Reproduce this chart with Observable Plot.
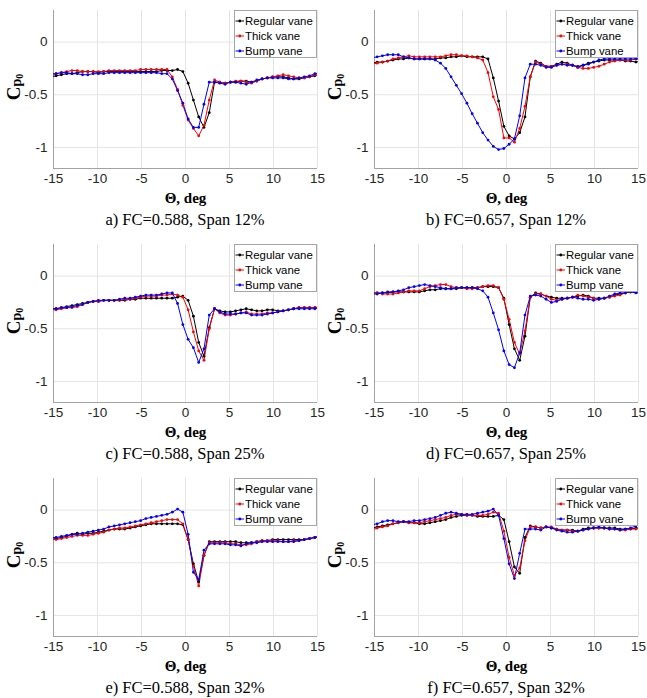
<!DOCTYPE html>
<html><head><meta charset="utf-8">
<script src="https://cdn.jsdelivr.net/npm/d3@7"></script>
<script src="https://cdn.jsdelivr.net/npm/@observablehq/plot@0.6"></script>
<style>
body{margin:0;background:#fff;}
#root{position:relative;width:647px;height:698px;overflow:hidden;background:#fff;}
.panel{position:absolute;}
.cap{position:absolute;font-family:"Liberation Serif","Times New Roman",serif;font-size:16.5px;line-height:20px;color:#000;text-align:center;white-space:nowrap;}
</style></head><body><div id="root"></div>
<script>
// Circumferential angle (deg)
const theta = [-15.3,-14.7,-14.1,-13.5,-12.9,-12.3,-11.7,-11.1,-10.5,-9.9,-9.3,-8.7,-8.1,
  -7.5,-6.9,-6.3,-5.7,-5.1,-4.5,-3.9,-3.3,-2.7,-2.1,-1.5,-0.9,-0.3,
  0.3,0.9,1.5,2.1,2.7,3.3,3.9,4.5,5.1,5.7,6.3,6.9,7.5,
  8.1,8.7,9.3,9.9,10.5,11.1,11.7,12.3,12.9,13.5,14.1,14.7,15.3];

const seriesNames = ["Regular vane", "Thick vane", "Bump vane"];
const seriesColors = ["#000000", "#ff0000", "#0000ff"];
const captions = ["a) FC=0.588, Span 12%", "b) FC=0.657, Span 12%",
  "c) FC=0.588, Span 25%", "d) FC=0.657, Span 25%",
  "e) FC=0.588, Span 32%", "f) FC=0.657, Span 32%"];
const xTicks = [-15, -10, -5, 0, 5, 10, 15];
const yTicks = [0, -0.5, -1];
const xDomain = [-15, 15];
const yDomain = [-1.2, 0.3];
const xLabel = "Θ, deg";

// a) FC=0.588, Span 12%
const regularA = [-0.33,-0.32,-0.31,-0.30,-0.30,-0.29,-0.28,-0.28,-0.28,-0.29,-0.28,-0.28,-0.28,
  -0.28,-0.28,-0.28,-0.28,-0.28,-0.28,-0.28,-0.28,-0.27,-0.27,-0.27,-0.26,-0.28,
  -0.39,-0.55,-0.71,-0.81,-0.67,-0.38,-0.38,-0.39,-0.38,-0.38,-0.37,-0.37,-0.38,
  -0.37,-0.35,-0.34,-0.33,-0.33,-0.33,-0.34,-0.35,-0.35,-0.34,-0.33,-0.32,-0.30];
const thickA = [-0.32,-0.30,-0.29,-0.28,-0.27,-0.27,-0.28,-0.28,-0.28,-0.28,-0.28,-0.27,-0.27,
  -0.27,-0.27,-0.27,-0.27,-0.26,-0.26,-0.26,-0.26,-0.26,-0.26,-0.33,-0.45,-0.60,
  -0.74,-0.82,-0.89,-0.79,-0.55,-0.36,-0.38,-0.39,-0.38,-0.37,-0.37,-0.38,-0.39,
  -0.37,-0.35,-0.34,-0.33,-0.32,-0.31,-0.32,-0.33,-0.34,-0.34,-0.33,-0.31,-0.29];
const bumpA = [-0.30,-0.30,-0.29,-0.29,-0.30,-0.30,-0.31,-0.31,-0.30,-0.30,-0.30,-0.29,-0.29,
  -0.29,-0.29,-0.29,-0.29,-0.29,-0.29,-0.29,-0.29,-0.30,-0.30,-0.35,-0.46,-0.58,
  -0.73,-0.81,-0.81,-0.59,-0.38,-0.38,-0.39,-0.40,-0.38,-0.38,-0.39,-0.40,-0.38,
  -0.36,-0.35,-0.34,-0.34,-0.34,-0.34,-0.35,-0.35,-0.34,-0.33,-0.32,-0.30,-0.29];

// b) FC=0.657, Span 12%
const regularB = [-0.20,-0.19,-0.19,-0.18,-0.17,-0.16,-0.16,-0.15,-0.16,-0.16,-0.16,-0.16,-0.16,
  -0.15,-0.15,-0.14,-0.14,-0.13,-0.14,-0.14,-0.14,-0.14,-0.16,-0.34,-0.56,-0.80,
  -0.89,-0.92,-0.86,-0.71,-0.33,-0.18,-0.20,-0.23,-0.23,-0.21,-0.19,-0.20,-0.22,
  -0.24,-0.22,-0.20,-0.19,-0.18,-0.17,-0.17,-0.17,-0.17,-0.18,-0.18,-0.19,-0.18];
const thickB = [-0.21,-0.20,-0.19,-0.18,-0.16,-0.15,-0.14,-0.13,-0.14,-0.14,-0.14,-0.14,-0.14,
  -0.14,-0.13,-0.12,-0.12,-0.13,-0.13,-0.14,-0.15,-0.17,-0.29,-0.52,-0.64,-0.91,
  -0.91,-0.95,-0.82,-0.61,-0.33,-0.19,-0.21,-0.23,-0.23,-0.22,-0.21,-0.21,-0.22,
  -0.24,-0.25,-0.25,-0.24,-0.23,-0.21,-0.19,-0.18,-0.17,-0.17,-0.17,-0.16,-0.16];
const bumpB = [-0.15,-0.14,-0.13,-0.12,-0.12,-0.12,-0.14,-0.15,-0.16,-0.16,-0.16,-0.16,-0.17,
  -0.20,-0.25,-0.33,-0.41,-0.49,-0.58,-0.68,-0.77,-0.86,-0.93,-0.99,-1.02,-1.01,
  -0.97,-0.92,-0.70,-0.34,-0.21,-0.21,-0.22,-0.24,-0.24,-0.22,-0.21,-0.22,-0.22,
  -0.23,-0.22,-0.21,-0.19,-0.17,-0.16,-0.16,-0.16,-0.16,-0.16,-0.16,-0.16,-0.16];

// c) FC=0.588, Span 25%
const regularC = [-0.31,-0.31,-0.30,-0.29,-0.28,-0.27,-0.26,-0.25,-0.24,-0.24,-0.23,-0.23,-0.23,
  -0.23,-0.23,-0.22,-0.22,-0.21,-0.21,-0.21,-0.21,-0.21,-0.21,-0.21,-0.20,-0.19,
  -0.23,-0.38,-0.63,-0.76,-0.49,-0.31,-0.33,-0.34,-0.34,-0.33,-0.32,-0.31,-0.32,
  -0.33,-0.33,-0.32,-0.32,-0.33,-0.33,-0.32,-0.31,-0.30,-0.30,-0.30,-0.30,-0.29];
const thickC = [-0.32,-0.32,-0.31,-0.30,-0.30,-0.29,-0.27,-0.25,-0.24,-0.24,-0.23,-0.23,-0.23,
  -0.23,-0.22,-0.22,-0.21,-0.20,-0.19,-0.19,-0.19,-0.18,-0.18,-0.17,-0.18,-0.20,
  -0.32,-0.53,-0.71,-0.80,-0.50,-0.31,-0.35,-0.37,-0.37,-0.36,-0.35,-0.34,-0.36,
  -0.36,-0.36,-0.35,-0.35,-0.34,-0.33,-0.32,-0.31,-0.30,-0.30,-0.30,-0.30,-0.29];
const bumpC = [-0.31,-0.31,-0.30,-0.30,-0.29,-0.28,-0.27,-0.25,-0.24,-0.23,-0.23,-0.23,-0.23,
  -0.22,-0.21,-0.21,-0.20,-0.19,-0.18,-0.18,-0.18,-0.17,-0.16,-0.16,-0.26,-0.46,
  -0.60,-0.68,-0.82,-0.69,-0.37,-0.31,-0.34,-0.36,-0.36,-0.36,-0.35,-0.35,-0.37,
  -0.37,-0.37,-0.36,-0.35,-0.34,-0.33,-0.32,-0.31,-0.31,-0.31,-0.31,-0.31,-0.30];

// d) FC=0.657, Span 25%
const regularD = [-0.16,-0.16,-0.16,-0.16,-0.15,-0.15,-0.15,-0.15,-0.15,-0.15,-0.14,-0.13,-0.13,
  -0.12,-0.12,-0.12,-0.12,-0.11,-0.11,-0.11,-0.11,-0.10,-0.10,-0.10,-0.11,-0.21,
  -0.46,-0.69,-0.80,-0.57,-0.20,-0.16,-0.17,-0.19,-0.20,-0.21,-0.21,-0.21,-0.20,
  -0.19,-0.18,-0.19,-0.21,-0.21,-0.21,-0.20,-0.18,-0.17,-0.16,-0.15,-0.15,-0.15];
const thickD = [-0.16,-0.16,-0.17,-0.17,-0.17,-0.16,-0.15,-0.14,-0.14,-0.14,-0.12,-0.10,-0.09,
  -0.08,-0.08,-0.10,-0.11,-0.11,-0.12,-0.12,-0.11,-0.10,-0.09,-0.09,-0.11,-0.22,
  -0.41,-0.63,-0.74,-0.52,-0.20,-0.17,-0.17,-0.19,-0.22,-0.23,-0.22,-0.21,-0.20,
  -0.18,-0.19,-0.20,-0.21,-0.22,-0.21,-0.20,-0.19,-0.18,-0.16,-0.15,-0.14,-0.13];
const bumpD = [-0.17,-0.17,-0.16,-0.15,-0.15,-0.14,-0.13,-0.11,-0.10,-0.09,-0.08,-0.09,-0.10,
  -0.11,-0.12,-0.12,-0.11,-0.11,-0.11,-0.11,-0.12,-0.14,-0.20,-0.35,-0.51,-0.71,
  -0.84,-0.87,-0.73,-0.37,-0.19,-0.18,-0.19,-0.22,-0.25,-0.24,-0.22,-0.21,-0.20,
  -0.21,-0.22,-0.22,-0.23,-0.22,-0.21,-0.19,-0.17,-0.16,-0.16,-0.15,-0.16,-0.16];

// e) FC=0.588, Span 32%
const regularE = [-0.28,-0.27,-0.26,-0.25,-0.23,-0.22,-0.23,-0.22,-0.22,-0.21,-0.20,-0.19,-0.18,
  -0.18,-0.18,-0.17,-0.16,-0.15,-0.14,-0.13,-0.13,-0.13,-0.13,-0.13,-0.13,-0.14,
  -0.28,-0.51,-0.68,-0.43,-0.30,-0.30,-0.30,-0.30,-0.30,-0.30,-0.31,-0.31,-0.31,
  -0.30,-0.29,-0.29,-0.28,-0.28,-0.28,-0.28,-0.28,-0.28,-0.28,-0.27,-0.26,-0.25];
const thickE = [-0.28,-0.28,-0.27,-0.26,-0.25,-0.24,-0.24,-0.24,-0.23,-0.22,-0.21,-0.19,-0.18,
  -0.17,-0.17,-0.16,-0.15,-0.14,-0.13,-0.12,-0.11,-0.10,-0.09,-0.09,-0.09,-0.13,
  -0.28,-0.53,-0.72,-0.43,-0.31,-0.31,-0.31,-0.31,-0.32,-0.32,-0.33,-0.33,-0.32,
  -0.30,-0.29,-0.29,-0.29,-0.29,-0.30,-0.30,-0.29,-0.29,-0.28,-0.27,-0.26,-0.24];
const bumpE = [-0.26,-0.26,-0.25,-0.24,-0.23,-0.23,-0.22,-0.21,-0.20,-0.19,-0.18,-0.16,-0.15,
  -0.14,-0.13,-0.12,-0.11,-0.10,-0.08,-0.07,-0.06,-0.05,-0.04,-0.02,0.01,-0.02,
  -0.23,-0.59,-0.66,-0.38,-0.32,-0.32,-0.32,-0.32,-0.33,-0.33,-0.34,-0.32,-0.31,
  -0.31,-0.30,-0.30,-0.30,-0.30,-0.30,-0.30,-0.30,-0.29,-0.28,-0.27,-0.26,-0.25];

// f) FC=0.657, Span 32%
const regularF = [-0.17,-0.16,-0.15,-0.14,-0.13,-0.12,-0.11,-0.12,-0.12,-0.13,-0.13,-0.12,-0.11,
  -0.10,-0.09,-0.07,-0.06,-0.05,-0.05,-0.05,-0.06,-0.06,-0.06,-0.06,-0.05,-0.09,
  -0.30,-0.54,-0.60,-0.26,-0.15,-0.16,-0.17,-0.16,-0.17,-0.18,-0.19,-0.19,-0.19,
  -0.20,-0.18,-0.17,-0.17,-0.17,-0.17,-0.17,-0.17,-0.18,-0.18,-0.18,-0.17,-0.17];
const thickF = [-0.19,-0.17,-0.16,-0.15,-0.13,-0.12,-0.11,-0.12,-0.12,-0.12,-0.11,-0.10,-0.09,
  -0.08,-0.07,-0.05,-0.04,-0.04,-0.05,-0.05,-0.05,-0.05,-0.04,-0.02,-0.03,-0.20,
  -0.45,-0.62,-0.55,-0.29,-0.16,-0.16,-0.17,-0.16,-0.16,-0.18,-0.19,-0.19,-0.20,
  -0.20,-0.19,-0.18,-0.17,-0.17,-0.17,-0.18,-0.18,-0.19,-0.19,-0.18,-0.18,-0.17];
const bumpF = [-0.14,-0.13,-0.11,-0.10,-0.10,-0.11,-0.11,-0.11,-0.10,-0.10,-0.09,-0.08,-0.07,
  -0.05,-0.03,-0.02,-0.03,-0.04,-0.04,-0.04,-0.03,-0.02,-0.01,0.01,-0.05,-0.27,
  -0.51,-0.65,-0.41,-0.18,-0.18,-0.18,-0.19,-0.16,-0.17,-0.19,-0.20,-0.21,-0.21,
  -0.20,-0.19,-0.18,-0.17,-0.16,-0.17,-0.18,-0.18,-0.19,-0.18,-0.17,-0.15,-0.14];

const panels = [
  [regularA, thickA, bumpA], [regularB, thickB, bumpB],
  [regularC, thickC, bumpC], [regularD, thickD, bumpD],
  [regularE, thickE, bumpE], [regularF, thickF, bumpF]
];
panels.forEach((p, i) => p.forEach((s, k) => {
  if (s.length !== theta.length) throw new Error(`panel ${i} series ${k} has ${s.length} values`);
}));

const SERIF = "'Liberation Serif','Times New Roman',serif";
const SANS = "'Liberation Sans',Arial,Helvetica,sans-serif";
const W = 323, H = 205, ML = 53, MR = 6, MT = 10, MB = 37;
const root = document.getElementById("root");

panels.forEach((series, pi) => {
  const col = pi % 2, row = Math.floor(pi / 2);
  const left = col * 321, top = row * 234;
  const rows = [];
  series.forEach((vals, k) => vals.forEach((v, i) => rows.push({theta: theta[i], cp: v, vane: seriesNames[k]})));

  const svgEl = Plot.plot({
    width: W, height: H,
    marginLeft: ML, marginRight: MR, marginTop: MT, marginBottom: MB,
    style: {background: "transparent", fontFamily: SANS, fontSize: "13.5px", color: "#262626", overflow: "visible"},
    x: {domain: xDomain, ticks: xTicks, tickSize: 0, tickPadding: 5, label: null, tickFormat: d => String(d)},
    y: {domain: yDomain, ticks: yTicks, tickSize: 0, tickPadding: 6, label: null, tickFormat: d => String(d)},
    color: {domain: seriesNames, range: seriesColors},
    marks: [
      Plot.gridX(xTicks, {stroke: "#e4e4e4", strokeOpacity: 1}),
      Plot.gridY(yTicks, {stroke: "#e4e4e4", strokeOpacity: 1}),
      Plot.ruleX([xDomain[0]], {stroke: "#a3a3a3"}),
      Plot.ruleY([yDomain[0]], {stroke: "#a3a3a3"}),
      Plot.line(rows, {x: "theta", y: "cp", z: "vane", stroke: "vane", strokeWidth: 1, clip: true}),
      Plot.dot(rows, {x: "theta", y: "cp", fill: "vane", r: 1.4, clip: true}),
      Plot.text([xLabel], {frameAnchor: "bottom", lineAnchor: "middle", dy: 30, text: d => d,
        fontFamily: SERIF, fontWeight: "bold", fontSize: 15, fill: "#000"})
    ]
  });

  const svg = d3.select(svgEl);
  // y-axis label C_p0
  const yl = svg.append("text")
    .attr("transform", `translate(20,${(MT + H - MB) / 2 - 2}) rotate(-90)`)
    .attr("text-anchor", "middle")
    .attr("font-family", SERIF).attr("font-weight", "bold").attr("fill", "#000");
  yl.append("tspan").attr("font-size", 19).text("C");
  yl.append("tspan").attr("font-size", 14).attr("dy", 1).text("p");
  yl.append("tspan").attr("font-size", 10).attr("dy", 2).text("0");

  // legend box (northeast)
  const lw = 83, lh = 48;
  const lg = svg.append("g").attr("transform", `translate(${W - MR - lw},${MT})`);
  lg.append("rect").attr("x", 0.5).attr("y", 0.5).attr("width", lw - 1).attr("height", lh - 1)
    .attr("fill", "#fff").attr("stroke", "#a6a6a6");
  seriesNames.forEach((n, k) => {
    const yy = 11 + k * 15;
    lg.append("line").attr("x1", 1.5).attr("x2", 10).attr("y1", yy).attr("y2", yy)
      .attr("stroke", seriesColors[k]).attr("stroke-width", 1);
    lg.append("circle").attr("cx", 5.8).attr("cy", yy).attr("r", 1.4).attr("fill", seriesColors[k]);
    lg.append("text").attr("x", 11).attr("y", yy).attr("dy", "0.36em").attr("text-anchor", "start")
      .attr("font-family", SANS).attr("font-size", 11.4).attr("fill", "#000").text(n);
  });

  const wrap = document.createElement("div");
  wrap.className = "panel";
  wrap.style.left = left + "px";
  wrap.style.top = top + "px";
  wrap.appendChild(svgEl);
  root.appendChild(wrap);

  const cap = document.createElement("div");
  cap.className = "cap";
  cap.style.left = (left + ML) + "px";
  cap.style.width = (W - ML - MR) + "px";
  cap.style.top = (top + 220 - 10) + "px";
  cap.textContent = captions[pi];
  root.appendChild(cap);
});
</script>
</body></html>
